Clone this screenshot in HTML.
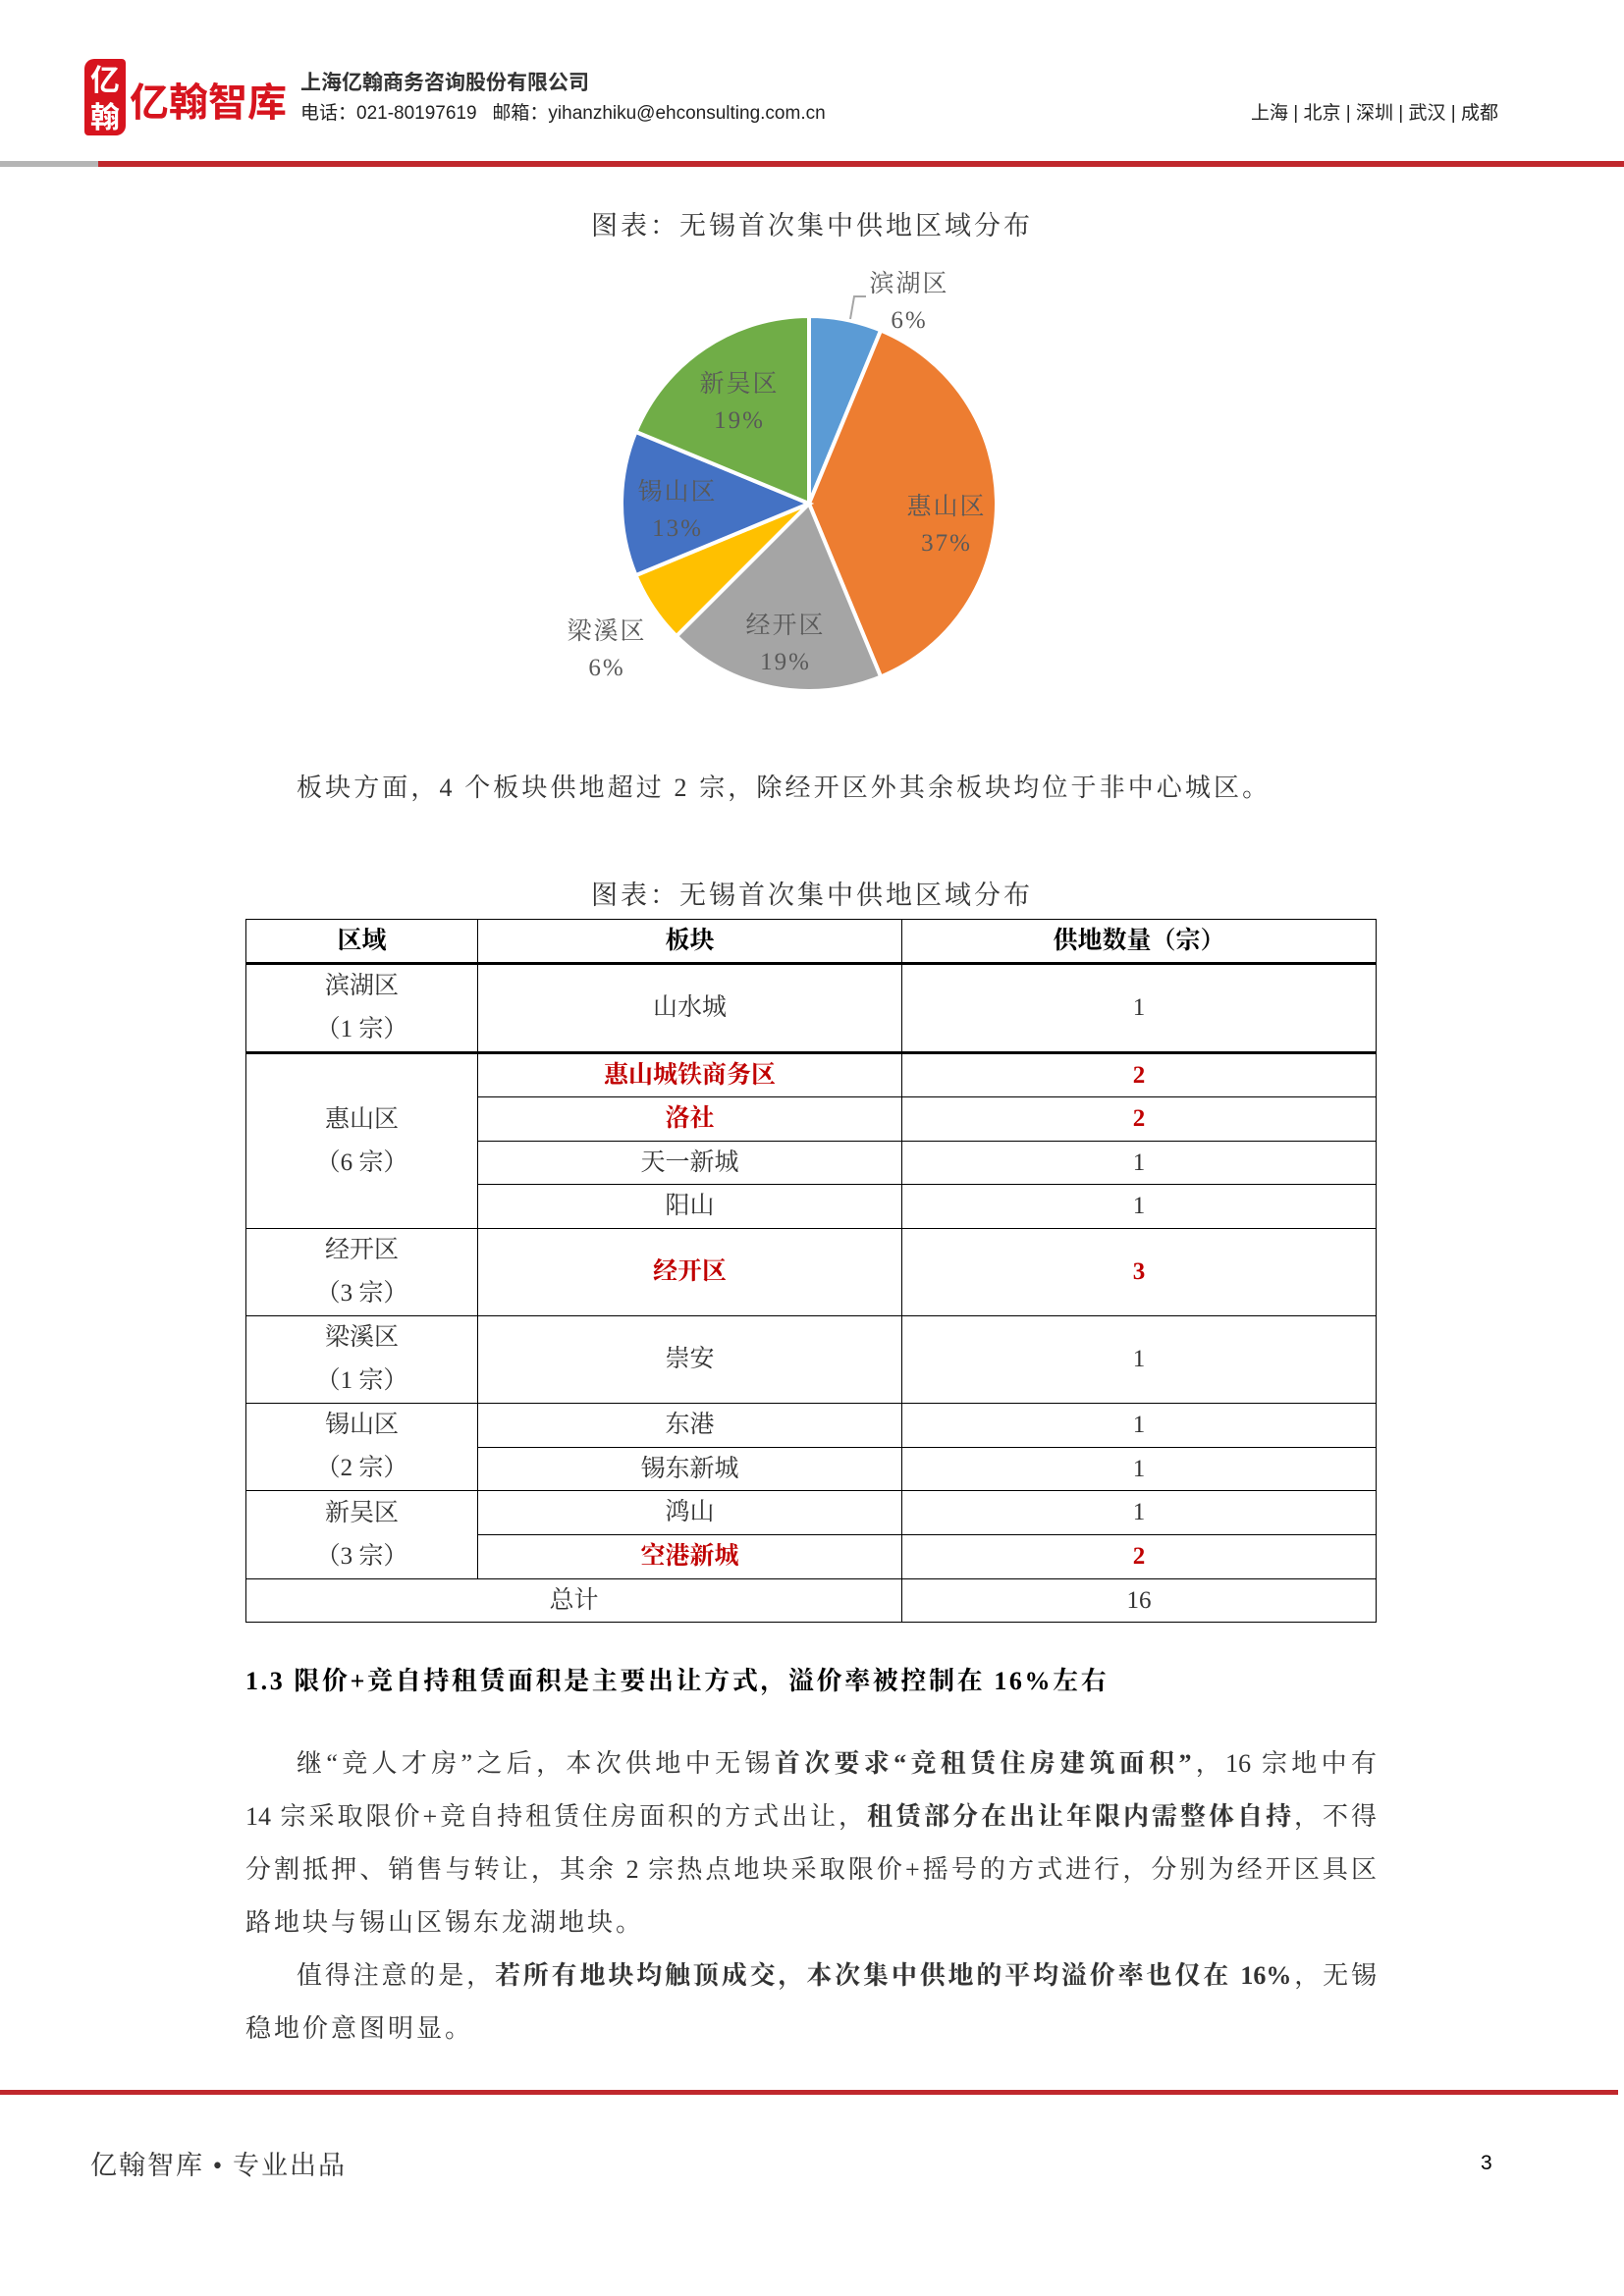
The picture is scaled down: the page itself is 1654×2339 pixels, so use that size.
<!DOCTYPE html>
<html><head><meta charset="utf-8">
<style>
body{margin:0;width:1654px;height:2339px;position:relative;background:#fff;overflow:hidden;font-family:"Liberation Serif","Noto Serif CJK SC",serif;color:#333}
.a{position:absolute;white-space:nowrap}
.sans{font-family:"Liberation Sans","Noto Sans CJK SC",sans-serif}
table{position:absolute;left:250px;top:936px;width:1152px;border-collapse:collapse;font-size:25px;color:#333}
td{border:1.5px solid #000;text-align:center;padding:0;line-height:40px}
.red{color:#c00000;font-weight:bold}
.hd td{font-weight:bold;color:#000;border-bottom:3px solid #000}
.p{position:absolute;left:250px;width:1152px;font-size:26px;line-height:54px}
.j{text-align:justify;text-align-last:justify;white-space:nowrap;height:54px}
</style></head><body>
<div class="a" style="left:86px;top:60px;width:42px;height:78px;background:#d7141e;border-radius:10px 4px 10px 4px;color:#fff;font-size:30px;line-height:38px;text-align:center;font-family:'Noto Sans CJK SC',sans-serif;font-weight:bold">亿<br>翰</div>
<div class="a sans" style="left:132px;top:72px;font-size:40px;font-weight:bold;color:#d7141e">亿翰智库</div>
<div class="a sans" style="left:306px;top:68px;font-size:21px;font-weight:bold;color:#333">上海亿翰商务咨询股份有限公司</div>
<div class="a sans" style="left:306px;top:100px;font-size:19px;color:#222">电话：021-80197619 &nbsp; 邮箱：yihanzhiku@ehconsulting.com.cn</div>
<div class="a sans" style="right:128px;top:100px;font-size:19px;color:#222">上海 | 北京 | 深圳 | 武汉 | 成都</div>
<div class="a" style="left:0;top:164px;width:100px;height:6px;background:#b5b5b5"></div>
<div class="a" style="left:100px;top:164px;width:1554px;height:6px;background:#c0282d"></div>

<div class="a" style="left:0;width:1654px;text-align:center;top:208px;font-size:27px;letter-spacing:3px;color:#333">图表：无锡首次集中供地区域分布</div>
<svg class="a" style="left:0;top:0" width="1654" height="760" id="pie"></svg>

<div class="a" style="left:302px;top:782px;font-size:26px;letter-spacing:3.1px">板块方面，4 个板块供地超过 2 宗，除经开区外其余板块均位于非中心城区。</div>
<div class="a" style="left:0;width:1654px;text-align:center;top:890px;font-size:27px;letter-spacing:3px">图表：无锡首次集中供地区域分布</div>

<table>
<colgroup><col style="width:236px"><col style="width:432px"><col></colgroup>
<tr class="hd" style="height:45px"><td>区域</td><td>板块</td><td>供地数量（宗）</td></tr>
<tr style="height:88px"><td style="line-height:44px">滨湖区<br>（1 宗）</td><td>山水城</td><td>1</td></tr>
<tr style="height:45px;border-top:3px solid #000"><td rowspan="4" style="line-height:44px">惠山区<br>（6 宗）</td><td class="red">惠山城铁商务区</td><td class="red">2</td></tr>
<tr style="height:45px"><td class="red">洛社</td><td class="red">2</td></tr>
<tr style="height:44px"><td>天一新城</td><td>1</td></tr>
<tr style="height:45px"><td>阳山</td><td>1</td></tr>
<tr style="height:88px"><td style="line-height:44px">经开区<br>（3 宗）</td><td class="red">经开区</td><td class="red">3</td></tr>
<tr style="height:88px"><td style="line-height:44px">梁溪区<br>（1 宗）</td><td>崇安</td><td>1</td></tr>
<tr style="height:45px"><td rowspan="2" style="line-height:44px">锡山区<br>（2 宗）</td><td>东港</td><td>1</td></tr>
<tr style="height:44px"><td>锡东新城</td><td>1</td></tr>
<tr style="height:45px"><td rowspan="2" style="line-height:44px">新吴区<br>（3 宗）</td><td>鸿山</td><td>1</td></tr>
<tr style="height:45px"><td class="red">空港新城</td><td class="red">2</td></tr>
<tr style="height:44px"><td colspan="2">总计</td><td>16</td></tr>
</table>

<div class="a" style="left:250px;top:1692px;font-size:26px;font-weight:bold;color:#000;letter-spacing:2.6px">1.3 限价+竞自持租赁面积是主要出让方式，溢价率被控制在 16%左右</div>
<div class="p" style="top:1770px">
<div class="j" style="padding-left:52px">继“竞人才房”之后，本次供地中无锡<b>首次要求“竞租赁住房建筑面积”</b>，16 宗地中有</div>
<div class="j">14 宗采取限价+竞自持租赁住房面积的方式出让，<b>租赁部分在出让年限内需整体自持</b>，不得</div>
<div class="j">分割抵押、销售与转让，其余 2 宗热点地块采取限价+摇号的方式进行，分别为经开区具区</div>
<div style="letter-spacing:3px">路地块与锡山区锡东龙湖地块。</div>
</div>
<div class="p" style="top:1986px">
<div class="j" style="padding-left:52px">值得注意的是，<b>若所有地块均触顶成交，本次集中供地的平均溢价率也仅在 16%</b>，无锡</div>
<div style="letter-spacing:3px">稳地价意图明显。</div>
</div>

<div class="a" style="left:0;top:2129px;width:1648px;height:5px;background:#c0282d"></div>
<div class="a" style="left:92px;top:2184px;font-size:27px;letter-spacing:2px">亿翰智库 • 专业出品</div>
<div class="a sans" style="left:1508px;top:2192px;font-size:21px;color:#000">3</div>

<script>
const categories=["滨湖区","惠山区","经开区","梁溪区","锡山区","新吴区"];
const counts=[1,6,3,1,2,3];
const pctLabels=["6%","37%","19%","6%","13%","19%"];
const colors=["#5b9bd5","#ed7d31","#a5a5a5","#ffc000","#4472c4","#70ad47"];
const labelXY=[[926,297],[964,524],[800,645],[618,651],[690,509],[753,399]];
const svg=document.getElementById('pie');
const NS='http://www.w3.org/2000/svg';
const cx=824,cy=513,r=191;
const total=counts.reduce((a,b)=>a+b,0);
let ang=0;
counts.forEach((v,i)=>{
  const a0=ang,a1=ang+v/total*2*Math.PI;ang=a1;
  const x0=cx+r*Math.sin(a0),y0=cy-r*Math.cos(a0),x1=cx+r*Math.sin(a1),y1=cy-r*Math.cos(a1);
  const p=document.createElementNS(NS,'path');
  p.setAttribute('d',`M${cx},${cy}L${x0},${y0}A${r},${r} 0 ${a1-a0>Math.PI?1:0} 1 ${x1},${y1}Z`);
  p.setAttribute('fill',colors[i]);p.setAttribute('stroke','#fff');p.setAttribute('stroke-width','4');
  
  
  svg.appendChild(p);
  [categories[i],pctLabels[i]].forEach((t,j)=>{
    const tx=document.createElementNS(NS,'text');
    tx.setAttribute('x',labelXY[i][0]);tx.setAttribute('y',labelXY[i][1]+j*37);
    tx.setAttribute('text-anchor','middle');tx.setAttribute('font-size','25');tx.setAttribute('fill','#595959');
    tx.setAttribute('font-family','"Liberation Serif","Noto Serif CJK SC",serif');
    tx.setAttribute('letter-spacing','2');
    tx.textContent=t;
    
    
    svg.appendChild(tx);
  });
});
const ld=document.createElementNS(NS,'path');
ld.setAttribute('d','M866,325L870,302L882,302');ld.setAttribute('stroke','#a6a6a6');ld.setAttribute('fill','none');ld.setAttribute('stroke-width','2');


svg.appendChild(ld);
</script>
</body></html>
